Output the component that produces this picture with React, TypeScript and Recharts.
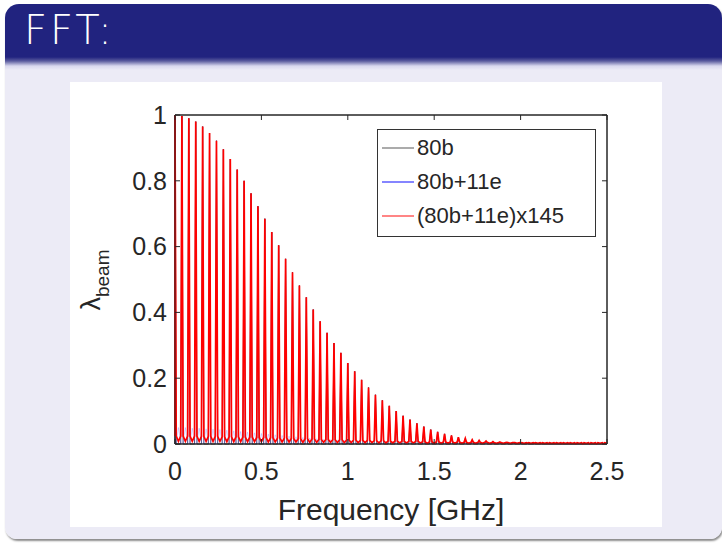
import React from 'react';
import { LineChart, Line, XAxis, YAxis, Legend, ReferenceArea } from 'recharts';

// Harmonic frequencies (GHz) of the 40 MHz comb
const harmonicFreqs = [
  0, 0.04, 0.08, 0.12, 0.16, 0.2, 0.24, 0.28, 0.32, 0.36,
  0.4, 0.44, 0.48, 0.52, 0.56, 0.6, 0.64, 0.68, 0.72, 0.76,
  0.8, 0.84, 0.88, 0.92, 0.96, 1.0, 1.04, 1.08, 1.12, 1.16,
  1.2, 1.24, 1.28, 1.32, 1.36, 1.4, 1.44, 1.48, 1.52, 1.56,
  1.6, 1.64, 1.68, 1.72, 1.76, 1.8, 1.84, 1.88, 1.92, 1.96,
  2.0, 2.04, 2.08, 2.12, 2.16, 2.2, 2.24, 2.28, 2.32, 2.36,
  2.4, 2.44, 2.48,
];

// Peak amplitude at each harmonic, (80b+11e)x145 (red)
const trainPeaks = [
  1.0, 0.997, 0.99, 0.98, 0.965, 0.945, 0.922, 0.896, 0.866, 0.834,
  0.8, 0.762, 0.723, 0.685, 0.644, 0.604, 0.563, 0.522, 0.482, 0.446,
  0.409, 0.373, 0.338, 0.307, 0.277, 0.246, 0.221, 0.195, 0.172, 0.15,
  0.133, 0.116, 0.1, 0.086, 0.074, 0.063, 0.053, 0.044, 0.037, 0.031,
  0.026, 0.021, 0.017, 0.013, 0.011, 0.009, 0.007, 0.006, 0.005, 0.004,
  0.003, 0.0025, 0.002, 0.0015, 0.001, 0.001, 0.001, 0.001, 0.0005, 0.0005,
  0.0005, 0.0005, 0.0005,
];
// Peaks of 80b+11e (blue) and 80b (black) lie under the red ones
const peaks80b11e = [
  1.0, 0.997, 0.99, 0.98, 0.965, 0.945, 0.922, 0.896, 0.866, 0.834,
  0.8, 0.762, 0.723, 0.685, 0.644, 0.604, 0.563, 0.522, 0.482, 0.446,
  0.409, 0.373, 0.338, 0.307, 0.277, 0.246, 0.221, 0.195, 0.172, 0.15,
  0.133, 0.116, 0.1, 0.086, 0.074, 0.063, 0.053, 0.044, 0.037, 0.031,
  0.026, 0.021, 0.017, 0.013, 0.011, 0.009, 0.007, 0.006, 0.005, 0.004,
  0.003, 0.0025, 0.002, 0.0015, 0.001, 0.001, 0.001, 0.001, 0.0005, 0.0005,
  0.0005, 0.0005, 0.0005,
];
const peaks80b = [
  1.0, 0.997, 0.99, 0.98, 0.965, 0.945, 0.922, 0.896, 0.866, 0.834,
  0.8, 0.762, 0.723, 0.685, 0.644, 0.604, 0.563, 0.522, 0.482, 0.446,
  0.409, 0.373, 0.338, 0.307, 0.277, 0.246, 0.221, 0.195, 0.172, 0.15,
  0.133, 0.116, 0.1, 0.086, 0.074, 0.063, 0.053, 0.044, 0.037, 0.031,
  0.026, 0.021, 0.017, 0.013, 0.011, 0.009, 0.007, 0.006, 0.005, 0.004,
  0.003, 0.0025, 0.002, 0.0015, 0.001, 0.001, 0.001, 0.001, 0.0005, 0.0005,
  0.0005, 0.0005, 0.0005,
];

// Red spectrum level at the foot of each spike and in the middle of each gap
const trainFoot = [
  0.024, 0.024, 0.024, 0.024, 0.023, 0.023, 0.023, 0.022, 0.022, 0.022,
  0.021, 0.021, 0.02, 0.02, 0.019, 0.018, 0.018, 0.017, 0.016, 0.016,
  0.015, 0.014, 0.014, 0.013, 0.013, 0.012, 0.012, 0.011, 0.011, 0.01,
  0.01, 0.009, 0.009, 0.008, 0.008, 0.008, 0.007, 0.007, 0.007, 0.006,
  0.006, 0.006, 0.005, 0.005, 0.005, 0.005, 0.004, 0.004, 0.004, 0.004,
  0.004, 0.004, 0.004, 0.004, 0.004, 0.004, 0.004, 0.004, 0.004, 0.004,
  0.004, 0.004, 0.004,
];
const trainTrough = [
  0.008, 0.008, 0.008, 0.008, 0.008, 0.008, 0.008, 0.007, 0.007, 0.007,
  0.007, 0.007, 0.007, 0.006, 0.006, 0.006, 0.006, 0.006, 0.005, 0.005,
  0.005, 0.005, 0.005, 0.004, 0.004, 0.004, 0.004, 0.004, 0.004, 0.003,
  0.003, 0.003, 0.003, 0.003, 0.003, 0.003, 0.002, 0.002, 0.002, 0.002,
  0.002, 0.002, 0.002, 0.002, 0.002, 0.002, 0.002, 0.002, 0.002, 0.002,
  0.002, 0.002, 0.002, 0.002, 0.002, 0.002, 0.002, 0.002, 0.002, 0.002,
  0.002, 0.002, 0.002,
];
// Blue sideband bumps between the harmonics
const blueSideband = [
  0.05, 0.05, 0.048, 0.048, 0.046, 0.045, 0.044, 0.042, 0.04, 0.038,
  0.036, 0.034, 0.032, 0.03, 0.028, 0.026, 0.024, 0.022, 0.02, 0.018,
  0.016, 0.014, 0.013, 0.012, 0.011, 0.01, 0.009, 0.008, 0.007, 0.006,
  0.006, 0.005, 0.005, 0.004, 0.004, 0.003, 0.003, 0.003, 0.002, 0.002,
  0.002, 0.002, 0.002, 0.002, 0.002, 0.002, 0.002, 0.002, 0.002, 0.002,
  0.002, 0.002, 0.002, 0.002, 0.002, 0.002, 0.002, 0.002, 0.002, 0.002,
  0.002, 0.002, 0.002,
];

const xTicks = [0, 0.5, 1, 1.5, 2, 2.5];
const yTicks = [0, 0.2, 0.4, 0.6, 0.8, 1];
const seriesNames = ['80b', '80b+11e', '(80b+11e)x145'];
const seriesColors = ['#000000', '#0000ff', '#ff0000'];

type Pt = { f: number; v: number };

function buildSpikes(peaks: number[], foot: number[], mid: number[], w: number): Pt[] {
  const pts: Pt[] = [];
  harmonicFreqs.forEach((f, i) => {
    pts.push({ f: i > 0 ? f - w : f, v: foot[i] });
    pts.push({ f, v: peaks[i] });
    pts.push({ f: f + w, v: foot[i] });
    pts.push({ f: f + 0.02, v: mid[i] });
  });
  return pts;
}

const zeros = harmonicFreqs.map(() => 0);
const data80b = buildSpikes(peaks80b, zeros, zeros, 0.007);
const data80b11e = buildSpikes(peaks80b11e, zeros, blueSideband, 0.006);
const dataTrain = buildSpikes(trainPeaks, trainFoot, trainTrough, 0.007);

const FONT = '"Liberation Sans", Arial, Helvetica, sans-serif';
const TXT = '#262626';

const YLabel = () => {
  const cx = 30;
  const cy = 198;
  return (
    <text
      x={cx}
      y={cy}
      transform={`rotate(-90, ${cx}, ${cy})`}
      textAnchor="middle"
      fill={TXT}
      fontFamily={FONT}
    >
      <tspan fontSize={27}>λ</tspan>
      <tspan fontSize={19} dy={9}>beam</tspan>
    </text>
  );
};

const XLabel = (props: any) => {
  const vb = props.viewBox || {};
  const cx = (vb.x || 0) + (vb.width || 0) / 2;
  return (
    <text x={cx} y={438} textAnchor="middle" fill={TXT} fontFamily={FONT} fontSize={30}>
      Frequency [GHz]
    </text>
  );
};

const LegendBox = () => (
  <div
    style={{
      border: '1.5px solid #333',
      background: '#fff',
      padding: '1px 6px 3px 4px',
      fontFamily: FONT,
      fontSize: 22,
      color: TXT,
      width: 219,
      boxSizing: 'border-box',
    }}
  >
    {seriesNames.map((n, i) => (
      <div key={n} style={{ display: 'flex', alignItems: 'center', height: 34 }}>
        <svg width={32} height={10} style={{ marginRight: 3 }}>
          <line x1={0} y1={5} x2={32} y2={5} stroke={seriesColors[i]} strokeWidth={1.2} strokeOpacity={i === 0 ? 0.55 : 0.8} />
        </svg>
        <span>{n}</span>
      </div>
    ))}
  </div>
);

export default function App() {
  return (
    <div style={{ position: 'absolute', left: 0, top: 0, width: 722, height: 544, background: '#ffffff', overflow: 'hidden' }}>
      {/* slide frame */}
      <div
        style={{
          position: 'absolute',
          left: 5,
          top: 4,
          width: 717,
          height: 535,
          borderRadius: '14px 14px 12px 12px',
          background: 'linear-gradient(#21237f 0px, #21237f 53px, #5a5b9e 57px, #d9d8ee 62px, #ecebf6 66px, #ecebf6 100%)',
          boxShadow: '1px 2px 2px #8c8c8c',
        }}
      />
      <div
        style={{
          position: 'absolute',
          left: 24,
          top: 7,
          color: '#ffffff',
          fontFamily: '"DejaVu Sans", sans-serif',
          fontWeight: 300,
          fontSize: 40,
          letterSpacing: 3,
        }}
      >
        FFT:
      </div>
      {/* white figure area */}
      <div style={{ position: 'absolute', left: 70, top: 82, width: 592, height: 445, background: '#ffffff' }}>
        <LineChart width={592} height={445} margin={{ top: 33, right: 55, left: 0, bottom: 0 }}>
          <ReferenceArea x1={0} x2={2.5} y1={0} y2={1} fill="none" fillOpacity={0} stroke="#262626" strokeWidth={1} />
          <XAxis
            dataKey="f"
            type="number"
            domain={[0, 2.5]}
            ticks={xTicks}
            height={83}
            tickSize={-5}
            tickMargin={23}
            stroke="#262626"
            tick={{ fill: TXT, fontSize: 25, fontFamily: FONT }}
            label={<XLabel />}
          />
          <XAxis
            xAxisId="top"
            orientation="top"
            dataKey="f"
            type="number"
            domain={[0, 2.5]}
            ticks={xTicks}
            allowDataOverflow
            height={1}
            mirror
            tickFormatter={() => ''}
            tickSize={5}
            stroke="#262626"
          />
          <YAxis
            type="number"
            domain={[0, 1]}
            ticks={yTicks}
            width={105}
            tickSize={-5}
            tickMargin={13}
            stroke="#262626"
            tick={{ fill: TXT, fontSize: 25, fontFamily: FONT }}
            label={<YLabel />}
          />
          <YAxis
            yAxisId="right"
            orientation="right"
            type="number"
            domain={[0, 1]}
            ticks={yTicks}
            allowDataOverflow
            width={1}
            mirror
            tickFormatter={() => ''}
            tickSize={5}
            stroke="#262626"
          />
          <Line data={data80b} dataKey="v" name={seriesNames[0]} stroke="#000000" strokeWidth={0.6} dot={false} activeDot={false} isAnimationActive={false} />
          <Line data={data80b11e} dataKey="v" name={seriesNames[1]} stroke="#3030ff" strokeOpacity={0.25} strokeWidth={0.8} dot={false} activeDot={false} isAnimationActive={false} />
          <Line data={dataTrain} dataKey="v" name={seriesNames[2]} stroke="#ff0000" strokeWidth={1.7} dot={false} activeDot={false} isAnimationActive={false} />
          <Legend
            layout="vertical"
            align="center"
            verticalAlign="middle"
            content={<LegendBox />}
            wrapperStyle={{ left: 307, top: 47, width: 'auto', height: 'auto' }}
          />
        </LineChart>
      </div>
    </div>
  );
}
